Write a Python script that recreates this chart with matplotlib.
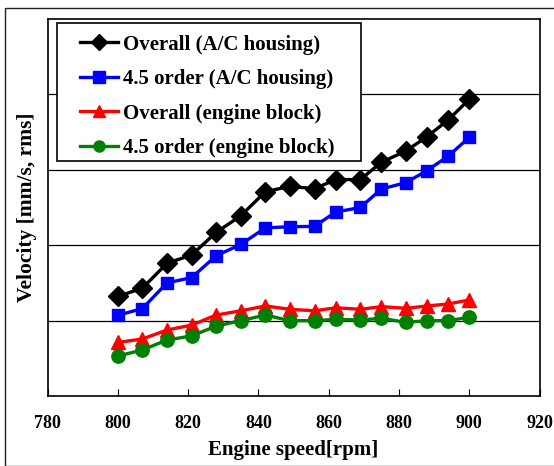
import matplotlib
matplotlib.use("Agg")
import matplotlib.pyplot as plt
from matplotlib.patches import Rectangle
from matplotlib.legend_handler import HandlerLine2D

rpm = [800, 807, 814, 821, 828, 835, 842, 849, 856, 862, 869, 875, 882, 888, 894, 900]
overall_ac = [1.32, 1.43, 1.76, 1.87, 2.17, 2.39, 2.71, 2.78, 2.75, 2.87, 2.87, 3.10, 3.25, 3.44, 3.66, 3.935]
order_ac = [1.07, 1.16, 1.50, 1.57, 1.86, 2.01, 2.23, 2.245, 2.25, 2.44, 2.50, 2.745, 2.83, 2.99, 3.18, 3.43]
overall_eng = [0.71, 0.756, 0.875, 0.94, 1.074, 1.13, 1.194, 1.15, 1.13, 1.17, 1.15, 1.185, 1.163, 1.194, 1.22, 1.273]
order_eng = [0.53, 0.61, 0.743, 0.796, 0.928, 0.999, 1.074, 0.999, 0.999, 1.017, 1.008, 1.03, 0.977, 0.999, 0.999, 1.044]

labels = ["Overall (A/C housing)", "4.5 order (A/C housing)",
          "Overall (engine block)", "4.5 order (engine block)"]
xticks = [780, 800, 820, 840, 860, 880, 900, 920]

plt.rcParams['font.family'] = ['Liberation Serif', 'DejaVu Serif']
plt.rcParams['font.weight'] = 'bold'

fig = plt.figure(figsize=(5.54, 4.66), dpi=100)
fig.patches.append(Rectangle((5 / 554, 0), 1.2, (466 - 7.5) / 466, transform=fig.transFigure,
                             fill=False, edgecolor='#222222', linewidth=1.0))
ax = fig.add_axes([47.5 / 554, (466 - 396) / 466, (539.5 - 47.5) / 554, (396 - 19) / 466])

ax.plot(rpm, overall_ac, color='black', marker='D', markersize=10.5, linewidth=2.4, label=labels[0])
ax.plot(rpm, order_ac, color='#0000ff', marker='s', markersize=9.3, linewidth=2.4, label=labels[1])
ax.plot(rpm, overall_eng, color='#ff0000', marker='^', markersize=10.5, linewidth=2.4, label=labels[2])
ax.plot(rpm, order_eng, color='#008000', marker='o', markersize=9.6, linewidth=2.4, label=labels[3])

ax.set_xlim(780, 920)
ax.set_ylim(0, 5)
ax.set_xticks(xticks)
ax.set_xticklabels([str(v) for v in xticks], fontsize=13, fontweight='bold')
ax.set_yticks([1, 2, 3, 4])
ax.set_yticklabels([])
ax.tick_params(axis='x', direction='in', length=5, pad=13.5)
ax.tick_params(axis='y', length=0)
ax.grid(axis='y', color='black', linewidth=0.9)
ax.set_axisbelow(True)
for s in ax.spines.values():
    s.set_linewidth(1.2)

ax.set_xlabel("Engine speed[rpm]", fontsize=15, fontweight='bold', labelpad=6)
ax.set_ylabel("Velocity [mm/s, rms]", fontsize=15.5, fontweight='bold', labelpad=4)

fs = 15
x0 = (56.5 - 47.5) / 492
w = 304 / 492
top = (396 - 23.3) / 377
bottom = (396 - 161) / 377
ax.add_patch(Rectangle((x0, bottom), w, top - bottom, transform=ax.transAxes,
                       facecolor='white', edgecolor='black', linewidth=1.2,
                       zorder=4.9, clip_on=False))
hmap = {h: HandlerLine2D(xpad=0.6) for h in ax.get_lines()}
leg = ax.legend(loc='upper left', bbox_to_anchor=(x0, top - 0.5, w, 0.5), mode='expand',
                frameon=False,
                handlelength=2.4, handletextpad=0.25, labelspacing=0.69, borderpad=0.55,
                borderaxespad=0, prop={'weight': 'bold', 'size': fs}, handler_map=hmap)
leg.set_zorder(5)
for h in leg.legend_handles:
    h.set_markersize(8)

fig.savefig("out.png", dpi=100)
